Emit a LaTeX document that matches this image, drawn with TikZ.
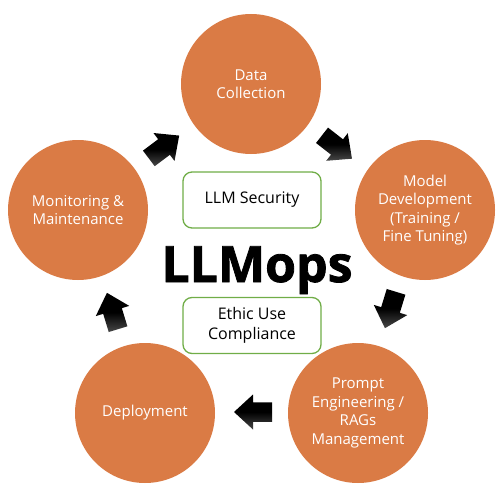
\documentclass[tikz,border=0pt]{standalone}
\usepackage{fontspec}
\setmainfont{Open Sans}
\newfontfamily\heavyfont[BoldFeatures={FakeBold=1.6}]{Open Sans}
\definecolor{circorange}{RGB}{218,123,69}
\definecolor{boxgreen}{RGB}{112,173,71}
\begin{document}
\begin{tikzpicture}[x=1pt,y=-1pt,
  circ/.style={circle, fill=circorange, minimum size=140pt, inner sep=0pt,
    text=white, align=center, font=\fontsize{15}{18.5}\selectfont},
  gbox/.style={rectangle, rounded corners=9pt, draw=boxgreen, line width=1.3pt,
    fill=white, minimum width=138pt, minimum height=56pt, align=center,
    font=\fontsize{16}{20}\selectfont},
  blockarrow/.pic={
    \shade[top color=black, bottom color=black!72!white, middle color=black]
      (-19,-9.75) -- (0,-9.75) -- (0,-17.5) -- (19,0) -- (0,17.5) -- (0,9.75) -- (-19,9.75) -- cycle;
  }]
\useasboundingbox (0,0) rectangle (500,500);
% circles
\node[circ] (dc) at (251,84) {Data\\Collection};
\node[circ] (md) at (425,210) {Model\\Development\\(Training /\\Fine Tuning)};
\node[circ] (pe) at (358,413) {Prompt\\Engineering /\\RAGs\\Management};
\node[circ] (dp) at (145,413) {Deployment};
\node[circ] (mm) at (78,210) {Monitoring \&\\Maintenance};
% boxes
\node[gbox] (sec) at (252,200) {LLM Security};
\node[gbox] (eth) at (252,325.5) {Ethic Use\\Compliance};
% title
\node[anchor=base, inner sep=0pt, font=\fontsize{50}{56}\heavyfont\bfseries] (title) at (257,282) {LLMops};
% block arrows
\pic[shift={(164,147)}, rotate=37] {blockarrow};
\pic[shift={(337,147)}, rotate=-38] {blockarrow};
\pic[shift={(390.5,310)}, rotate=-107] {blockarrow};
\pic[shift={(253,412)}, rotate=180] {blockarrow};
\pic[shift={(112.5,311)}, rotate=107] {blockarrow};
\end{tikzpicture}
\end{document}
